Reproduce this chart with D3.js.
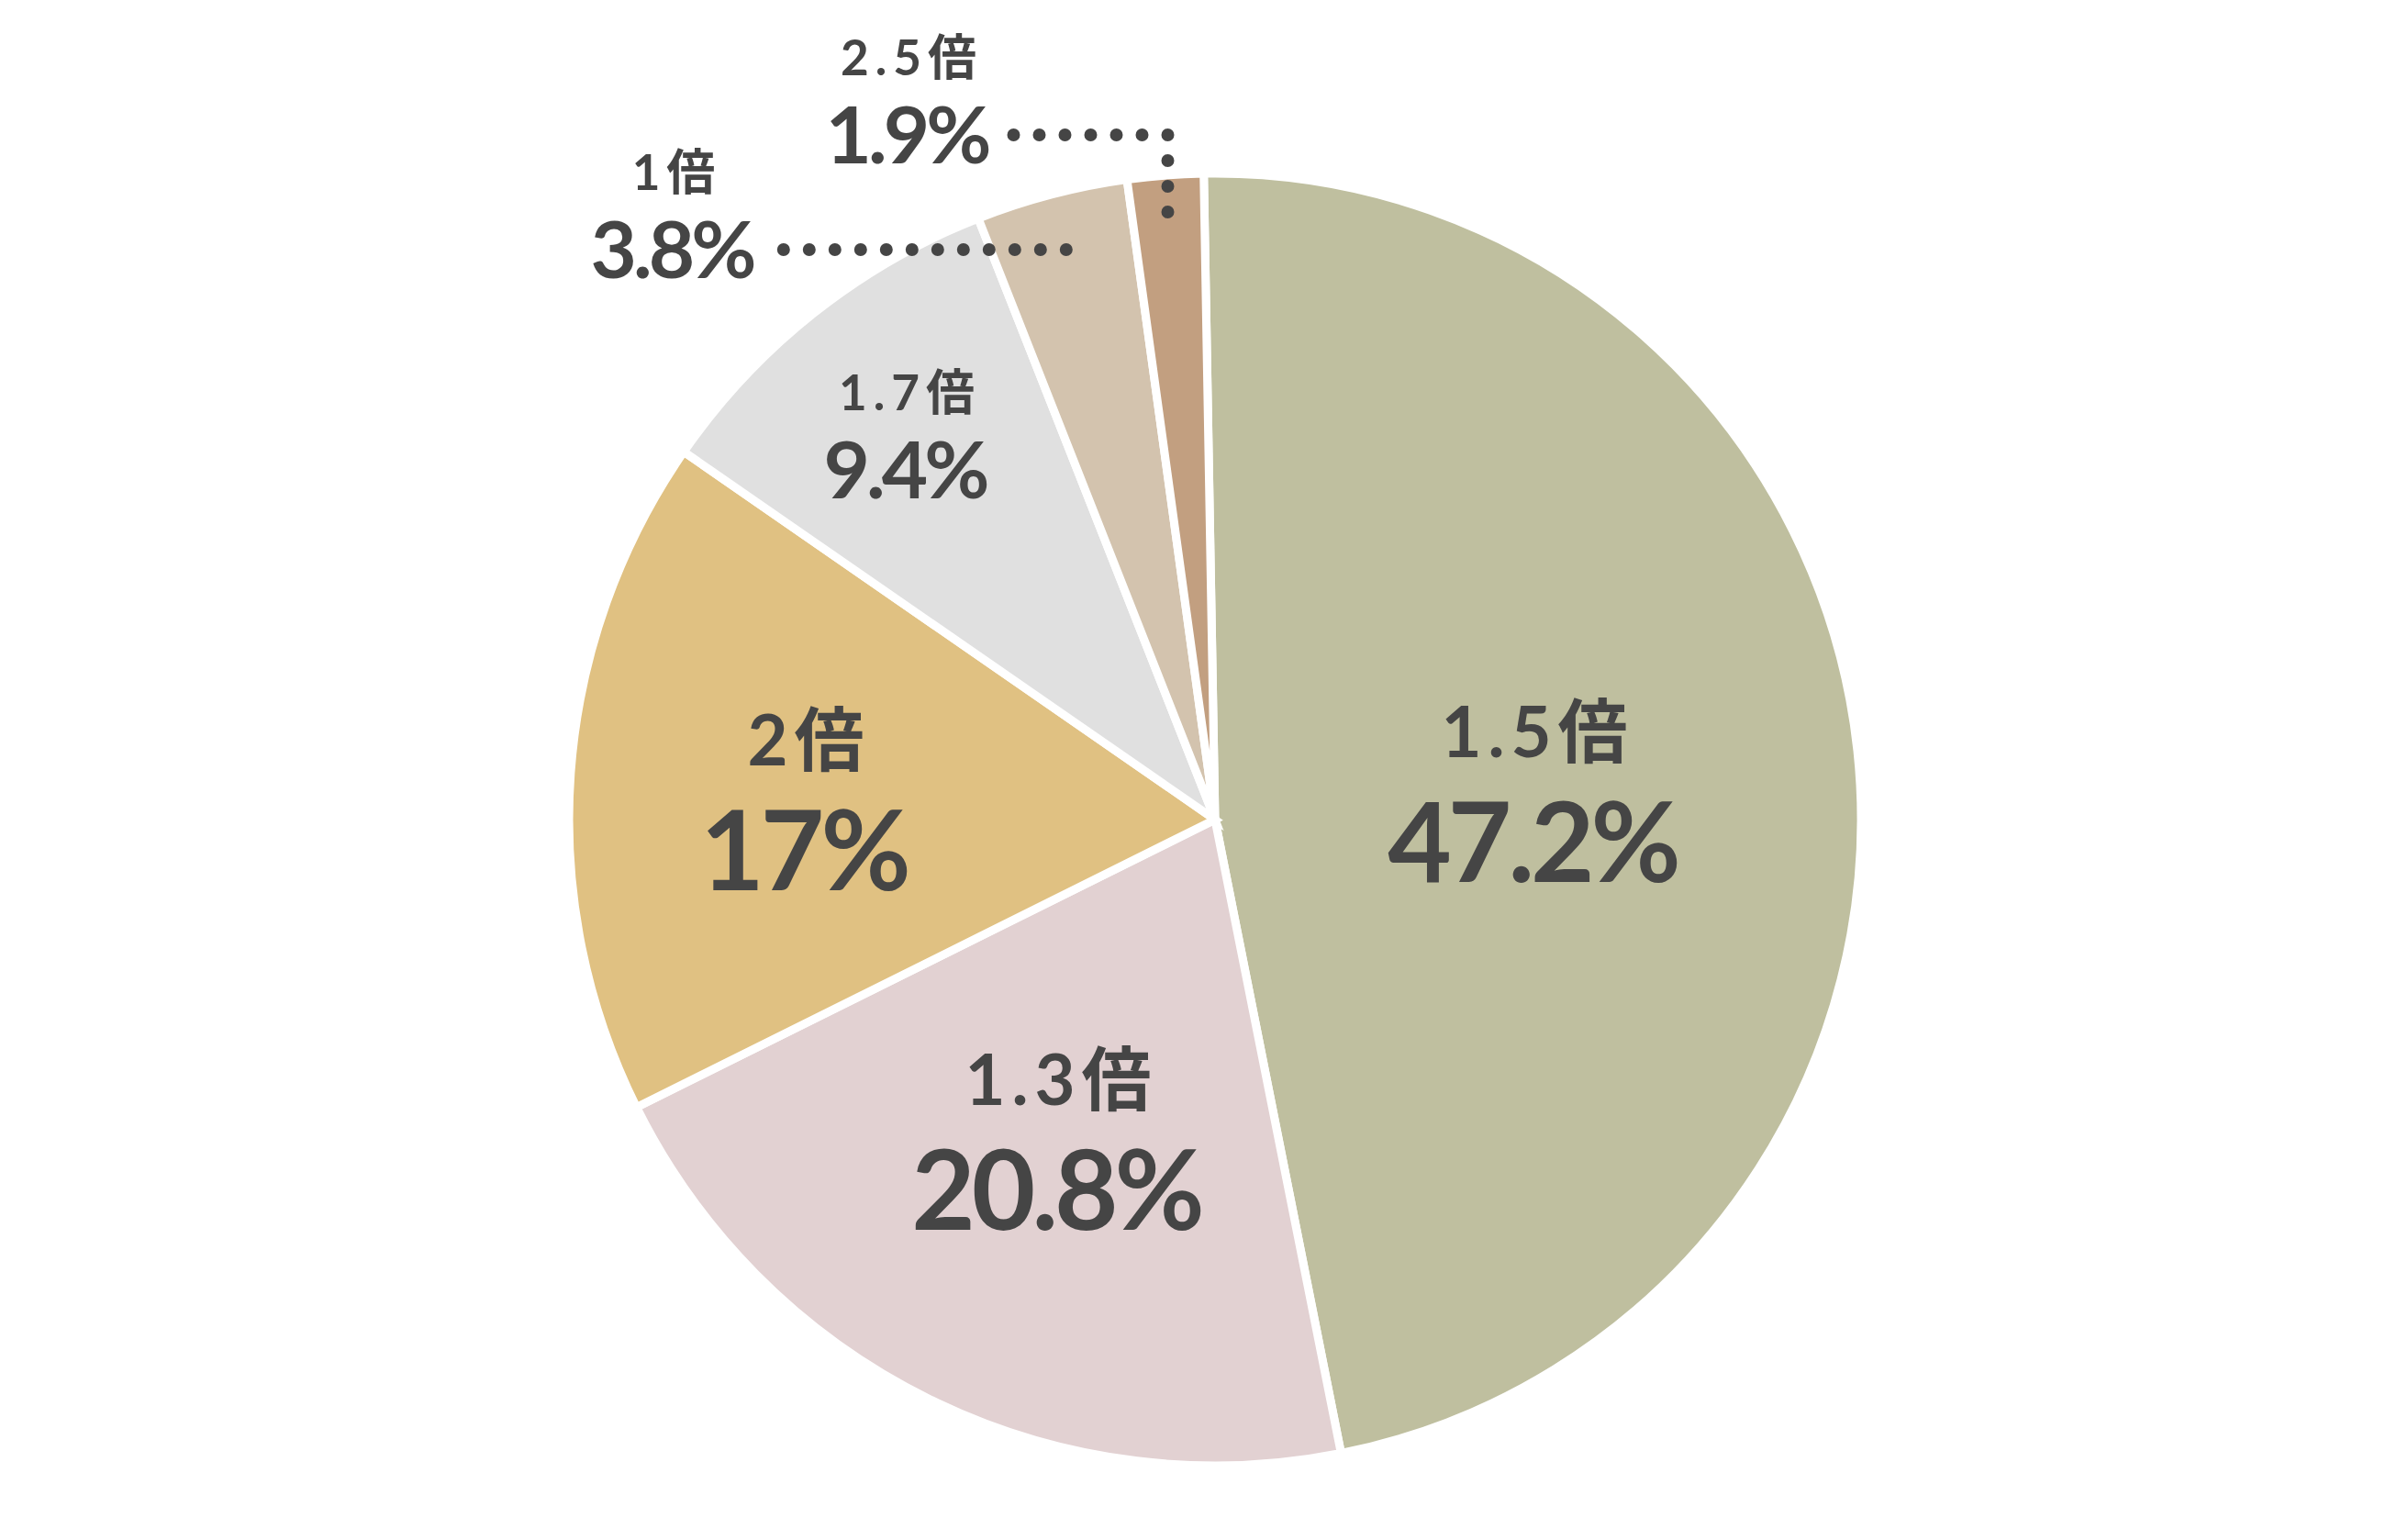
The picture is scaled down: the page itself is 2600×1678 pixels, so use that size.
<!DOCTYPE html>
<meta charset="utf-8">
<style>
body { margin: 0; background: #fff; }
text { fill: #454545; font-family: Lato, "Noto Sans CJK JP", sans-serif; text-anchor: middle; }
.lab { font-weight: 700; letter-spacing: 7px; }
.val { font-weight: 700; letter-spacing: -4px; }
.dot { fill: #454545; }
</style>
<svg width="2600" height="1678"></svg>
<script src="https://d3js.org/d3.v7.min.js"></script>
<script>

// data, clockwise from 12 o'clock
var categories = ["1.5倍", "1.3倍", "2倍", "1.7倍", "1倍", "2.5倍"];
var shares = [47.2, 20.8, 17, 9.4, 3.8, 1.9];
var valueLabels = ["47.2%", "20.8%", "17%", "9.4%", "3.8%", "1.9%"];
var colors = ["#bfbf9f", "#e2d1d2", "#e0c182", "#e0e0e0", "#d3c3ae", "#c29f80"];

// layout
var cx = 1324, cy = 893, radius = 704;
var start = -1 * Math.PI / 180;
// where each label sits (baseline of the % line, relative to the pie centre)
var labelOffset = [[348, 68], [-171, 447], [-446, 77], [-336, -350], [-590, -590], [-334, -715]];
var labelBig = [true, true, true, false, false, false];
// dotted leader end, as a fraction of the radius (0 = no leader)
var leaderR = [0, 0, 0, 0, 0.91, 0.95];
var dotGap = 28;

var svg = d3.select("svg");
svg.append("rect").attr("width", 2600).attr("height", 1678).attr("fill", "#fff");

var pie = d3.pie().sort(null).startAngle(start).endAngle(start + 2 * Math.PI)
    .value(function(d) { return d; });
var arc = d3.arc().innerRadius(0).outerRadius(radius);
var arcs = pie(shares);

var g = svg.append("g").attr("transform", "translate(" + cx + "," + cy + ")");

g.selectAll("path.slice")
    .data(arcs)
  .enter().append("path")
    .attr("class", "slice")
    .attr("d", arc)
    .attr("fill", function(d, i) { return colors[i]; })
    .attr("stroke", "#fff")
    .attr("stroke-width", 9);

var labels = g.selectAll("g.label")
    .data(arcs)
  .enter().append("g")
    .attr("class", "label")
    .attr("transform", function(d, i) {
      return "translate(" + labelOffset[i][0] + "," + labelOffset[i][1] + ")";
    });

labels.append("text")
    .attr("class", "lab")
    .attr("x", 3.5)
    .attr("y", function(d, i) { return labelBig[i] ? -136 : -96; })
    .style("font-size", function(d, i) { return labelBig[i] ? "76px" : "53px"; })
    .text(function(d, i) { return categories[i]; });

labels.append("text")
    .attr("class", "val")
    .attr("x", -2)
    .style("font-size", function(d, i) { return labelBig[i] ? "120px" : "87px"; })
    .text(function(d, i) { return valueLabels[i]; });

// dotted leaders for the two thin slices
labels.each(function(d, i) {
  if (!leaderR[i]) return;
  var box = d3.select(this).select(".val").node().getBBox();
  var r = radius * leaderR[i];
  var end = d3.arc().innerRadius(r).outerRadius(r).centroid(d);
  var ex = end[0] - labelOffset[i][0];
  var ey = end[1] - labelOffset[i][1];
  var ty = -31;
  var right = box.x + box.width;
  var nx = Math.floor((ex - right - 24) / dotGap);
  var ny = Math.abs(ey - ty) > 14 ? Math.round((ey - ty) / dotGap) : 0;
  var dots = [];
  for (var k = 0; k <= nx; k++) dots.push([ex - (nx - k) * dotGap, ty]);
  for (var k = 1; k <= ny; k++) dots.push([ex, ty + k * dotGap]);
  d3.select(this).selectAll("circle.dot")
      .data(dots)
    .enter().append("circle")
      .attr("class", "dot")
      .attr("cx", function(p) { return p[0]; })
      .attr("cy", function(p) { return p[1]; })
      .attr("r", 7);
});

</script>
